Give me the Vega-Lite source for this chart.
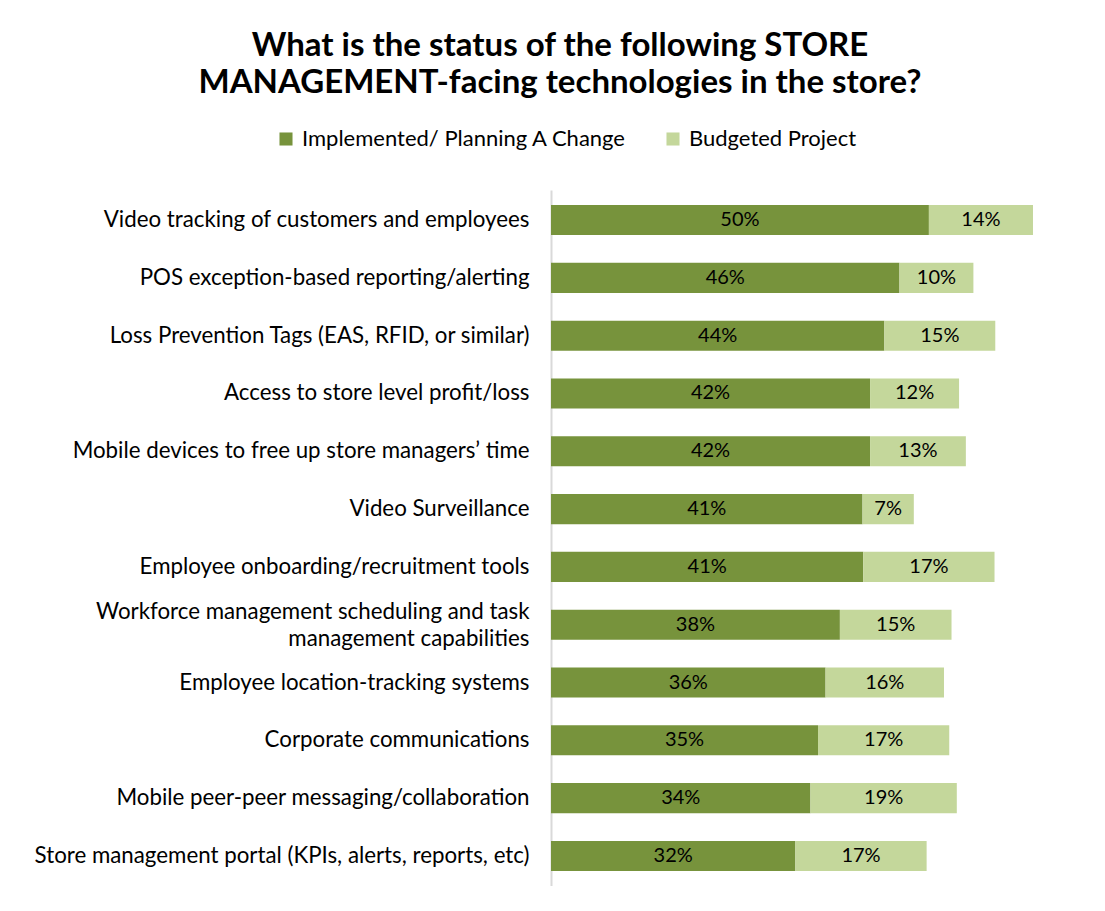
{
  "$schema": "https://vega.github.io/schema/vega-lite/v6.json",
  "width": 528,
  "height": 696,
  "autosize": {"type": "none"},
  "padding": {"left": 551, "top": 190, "right": 0, "bottom": 0},
  "background": "white",
  "config": {
    "font": "Lato",
    "view": {"stroke": null}
  },
  "title": {
    "text": ["What is the status of the following STORE", "MANAGEMENT-facing technologies in the store?"],
    "fontSize": 33,
    "fontWeight": "bold",
    "color": "#000000",
    "anchor": "middle",
    "frame": "group",
    "dx": -255,
    "lineHeight": 37,
    "offset": 28
  },
  "data": {
    "values": [
      {"item": "Video tracking of customers and employees", "status": "Implemented/ Planning A Change", "ord": 1, "value": 50.1},
      {"item": "Video tracking of customers and employees", "status": "Budgeted Project", "ord": 2, "value": 13.8},
      {"item": "POS exception-based reporting/alerting", "status": "Implemented/ Planning A Change", "ord": 1, "value": 46.2},
      {"item": "POS exception-based reporting/alerting", "status": "Budgeted Project", "ord": 2, "value": 9.8},
      {"item": "Loss Prevention Tags (EAS, RFID, or similar)", "status": "Implemented/ Planning A Change", "ord": 1, "value": 44.2},
      {"item": "Loss Prevention Tags (EAS, RFID, or similar)", "status": "Budgeted Project", "ord": 2, "value": 14.7},
      {"item": "Access to store level profit/loss", "status": "Implemented/ Planning A Change", "ord": 1, "value": 42.3},
      {"item": "Access to store level profit/loss", "status": "Budgeted Project", "ord": 2, "value": 11.8},
      {"item": "Mobile devices to free up store managers’ time", "status": "Implemented/ Planning A Change", "ord": 1, "value": 42.3},
      {"item": "Mobile devices to free up store managers’ time", "status": "Budgeted Project", "ord": 2, "value": 12.7},
      {"item": "Video Surveillance", "status": "Implemented/ Planning A Change", "ord": 1, "value": 41.3},
      {"item": "Video Surveillance", "status": "Budgeted Project", "ord": 2, "value": 6.8},
      {"item": "Employee onboarding/recruitment tools", "status": "Implemented/ Planning A Change", "ord": 1, "value": 41.4},
      {"item": "Employee onboarding/recruitment tools", "status": "Budgeted Project", "ord": 2, "value": 17.4},
      {"item": "Workforce management scheduling and task management capabilities", "status": "Implemented/ Planning A Change", "ord": 1, "value": 38.3},
      {"item": "Workforce management scheduling and task management capabilities", "status": "Budgeted Project", "ord": 2, "value": 14.8},
      {"item": "Employee location-tracking systems", "status": "Implemented/ Planning A Change", "ord": 1, "value": 36.4},
      {"item": "Employee location-tracking systems", "status": "Budgeted Project", "ord": 2, "value": 15.7},
      {"item": "Corporate communications", "status": "Implemented/ Planning A Change", "ord": 1, "value": 35.4},
      {"item": "Corporate communications", "status": "Budgeted Project", "ord": 2, "value": 17.4},
      {"item": "Mobile peer-peer messaging/collaboration", "status": "Implemented/ Planning A Change", "ord": 1, "value": 34.4},
      {"item": "Mobile peer-peer messaging/collaboration", "status": "Budgeted Project", "ord": 2, "value": 19.4},
      {"item": "Store management portal (KPIs, alerts, reports, etc)", "status": "Implemented/ Planning A Change", "ord": 1, "value": 32.4},
      {"item": "Store management portal (KPIs, alerts, reports, etc)", "status": "Budgeted Project", "ord": 2, "value": 17.4}
    ]
  },
  "transform": [
    {"stack": "value", "groupby": ["item"], "sort": [{"field": "ord", "order": "ascending"}], "as": ["v0", "v1"]},
    {"calculate": "(datum.v0 + datum.v1) / 2", "as": "mid"},
    {"calculate": "format(datum.value, '.0f') + '%'", "as": "lab"}
  ],
  "encoding": {
    "y": {
      "field": "item",
      "type": "nominal",
      "sort": null,
      "scale": {"paddingInner": 0.48, "paddingOuter": 0.26},
      "axis": {
        "title": null,
        "ticks": false,
        "domain": true,
        "domainColor": "#d9d9d9",
        "domainWidth": 2,
        "labelFontSize": 22.3,
        "labelColor": "#000000",
        "labelPadding": 22,
        "labelLimit": 600,
        "labelLineHeight": 27,
        "labelOffset": {"condition": {"test": "datum.value == 'Workforce management scheduling and task management capabilities'", "value": -13}, "value": 0},
        "labelExpr": "datum.value == 'Workforce management scheduling and task management capabilities' ? ['Workforce management scheduling and task', 'management capabilities'] : datum.label"
      }
    }
  },
  "layer": [
    {
      "mark": {"type": "bar"},
      "encoding": {
        "x": {"field": "v0", "type": "quantitative", "scale": {"domain": [0, 70]}, "axis": null},
        "x2": {"field": "v1"},
        "color": {
          "field": "status",
          "type": "nominal",
          "scale": {"domain": ["Implemented/ Planning A Change", "Budgeted Project"], "range": ["#77933C", "#C4D79B"]},
          "legend": {
            "title": null,
            "orient": "none",
            "direction": "horizontal",
            "legendX": -276,
            "legendY": -62,
            "symbolType": "square",
            "symbolSize": 170,
            "symbolStrokeWidth": 0,
            "labelFontSize": 22,
            "labelLimit": 500,
            "labelColor": "#000000",
            "columnPadding": 35,
            "labelOffset": 5
          }
        }
      }
    },
    {
      "mark": {"type": "text", "fontSize": 20, "color": "#000000", "baseline": "middle", "align": "center"},
      "encoding": {
        "x": {"field": "mid", "type": "quantitative"},
        "text": {"field": "lab", "type": "nominal"},
        "detail": {"field": "status"}
      }
    }
  ]
}
